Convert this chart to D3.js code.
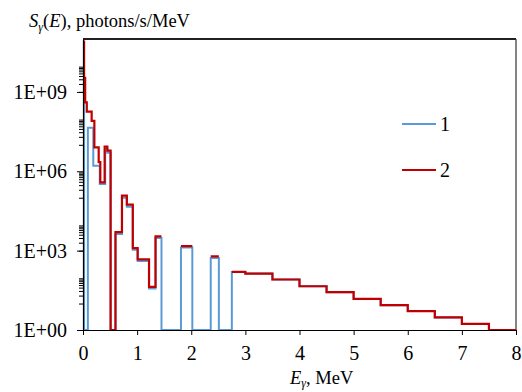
<!DOCTYPE html>
<html>
<head>
<meta charset="utf-8">
<script src="https://cdn.jsdelivr.net/npm/d3@7"></script>
<style>
  html, body { margin: 0; padding: 0; background: #fff; }
  svg { display: block; }
  svg text { font-family: "Liberation Serif", "DejaVu Serif", "Times New Roman", serif !important; fill: #000; }
</style>
</head>
<body>
<svg id="chart" width="522" height="392"></svg>
<script>
// ---- data ----
const xTicks = [0, 1, 2, 3, 4, 5, 6, 7, 8];
const yTickValues = [1, 1e3, 1e6, 1e9];
const yTickLabels = ["1E+00", "1E+03", "1E+06", "1E+09"];
const legendLabels = ["1", "2"];

// series 1 (blue): bin edges (MeV) and values per bin (photons/s/MeV)
const edges1 = [0, 0.02, 0.09, 0.19, 0.31, 0.41, 0.45, 0.51, 0.60, 0.72, 0.81, 0.92, 1.01, 1.22, 1.34, 1.45, 1.81, 2.02, 2.36, 2.51, 2.75, 3.0, 3.5, 4.0, 4.5, 5.0, 5.5, 6.0, 6.5, 7.0, 7.5, 8.0];
const values1 = [3e9, 1, 4.4e7, 1.6e6, 3.3e5, 7e6, 5e6, 1, 4300, 1.0e5, 4.6e4, 1080, 410, 37, 3000, 1, 1300, 1, 530, 1, 157, 136, 81, 45, 27, 15, 8.7, 5.2, 3.0, 1.7, 1.0];

// series 2 (red): bin edges and values (null = no value)
const edges2 = [0, 0.02, 0.04, 0.07, 0.16, 0.21, 0.29, 0.32, 0.40, 0.45, 0.51, 0.60, 0.72, 0.81, 0.92, 1.01, 1.22, 1.34, 1.45, 1.81, 2.02, 2.36, 2.51, 2.75, 3.0, 3.5, 4.0, 4.5, 5.0, 5.5, 6.0, 6.5, 7.0, 7.5, 8.0];
const values2 = [8e10, 3.4e9, 4e8, 1.8e8, 8e7, 8e6, 2.2e6, 3.8e5, 8.5e6, 6e6, 1, 5000, 1.2e5, 5.5e4, 1250, 470, 43, 3460, null, 1480, null, 610, null, 157, 136, 81, 45, 27, 15, 8.7, 5.2, 3.0, 1.7, 1.0];

const colors = ["#5b9bd5", "#c00000"];

// ---- layout ----
const svg = d3.select("#chart");
const mLeft = 83, mRight = 516, mTop = 39, mBottom = 330;
const x = d3.scaleLinear().domain([0, 8]).range([mLeft, mRight]);
const y = d3.scaleLog().domain([1, 1e11]).range([mBottom, mTop]);

// plot border
svg.append("line").attr("x1", mLeft).attr("x2", mRight).attr("y1", mTop).attr("y2", mTop)
  .attr("stroke", "#222").attr("stroke-width", 2);
svg.append("line").attr("x1", mRight).attr("x2", mRight).attr("y1", mTop).attr("y2", mBottom)
  .attr("stroke", "#333").attr("stroke-width", 1.2);

// step builder
function stepPoints(edges, values) {
  const pts = [];
  values.forEach((v, i) => {
    if (v == null) { pts.push(null); return; }
    pts.push([edges[i], v]);
    pts.push([edges[i + 1], v]);
  });
  return pts;
}
const line = d3.line()
  .defined(d => d != null)
  .x(d => x(d[0]))
  .y(d => y(d[1]));

svg.append("path").datum(stepPoints(edges1, values1))
  .attr("d", line).attr("fill", "none").attr("stroke", colors[0])
  .attr("stroke-width", 2).attr("stroke-linejoin", "miter");
svg.append("path").datum(stepPoints(edges2, values2))
  .attr("d", line).attr("fill", "none").attr("stroke", colors[1])
  .attr("stroke-width", 2.2).attr("stroke-linejoin", "miter");

// x axis
const xAxis = d3.axisBottom(x).tickValues(xTicks).tickFormat(d3.format("d"))
  .tickSizeInner(5).tickSizeOuter(0).tickPadding(11);
const gx = svg.append("g").attr("transform", `translate(0,${mBottom})`).call(xAxis);
gx.attr("font-family", null).attr("font-size", 20);
gx.select(".domain").attr("stroke", "#000").attr("stroke-width", 1.2);
gx.selectAll(".tick line").attr("stroke", "#000");

// y minor ticks
const minorVals = [];
[1, 3, 5, 7, 9].forEach(dd => { for (let k = 1; k <= 9; k++) minorVals.push(k * Math.pow(10, dd)); });
const yMinor = d3.axisLeft(y).tickValues(minorVals).tickFormat("").tickSizeInner(4).tickSizeOuter(0);
const gym = svg.append("g").attr("transform", `translate(${mLeft},0)`).call(yMinor);
gym.select(".domain").remove();
gym.selectAll(".tick line").attr("stroke", "#000").attr("stroke-width", 1);

// y major axis
const yAxis = d3.axisLeft(y).tickValues(yTickValues)
  .tickFormat((d, i) => yTickLabels[i]).tickSizeInner(6).tickSizeOuter(0).tickPadding(10);
const gy = svg.append("g").attr("transform", `translate(${mLeft},0)`).call(yAxis);
gy.attr("font-family", null).attr("font-size", 20);
gy.select(".domain").attr("stroke", "#000").attr("stroke-width", 1.2);
gy.selectAll(".tick line").attr("stroke", "#000");

// y title
const yt = svg.append("text").attr("x", 29).attr("y", 27).attr("font-size", 18.5);
yt.append("tspan").attr("font-style", "italic").text("S");
yt.append("tspan").attr("font-style", "italic").attr("font-size", 12).attr("dy", 4).text("γ");
yt.append("tspan").attr("dy", -4).text("(");
yt.append("tspan").attr("font-style", "italic").text("E");
yt.append("tspan").text("), photons/s/MeV");

// x title
const xt = svg.append("text").attr("x", 290).attr("y", 384).attr("font-size", 18.5);
xt.append("tspan").attr("font-style", "italic").text("E");
xt.append("tspan").attr("font-style", "italic").attr("font-size", 12).attr("dy", 3).text("γ");
xt.append("tspan").attr("dy", -3).text(", MeV");

// legend
const legY = [124, 170];
legendLabels.forEach((lab, i) => {
  svg.append("line").attr("x1", 402).attr("x2", 436).attr("y1", legY[i]).attr("y2", legY[i])
    .attr("stroke", colors[i]).attr("stroke-width", 2);
  svg.append("text").attr("x", 440).attr("y", legY[i] + 7).attr("font-size", 20).text(lab);
});
</script>
</body>
</html>
